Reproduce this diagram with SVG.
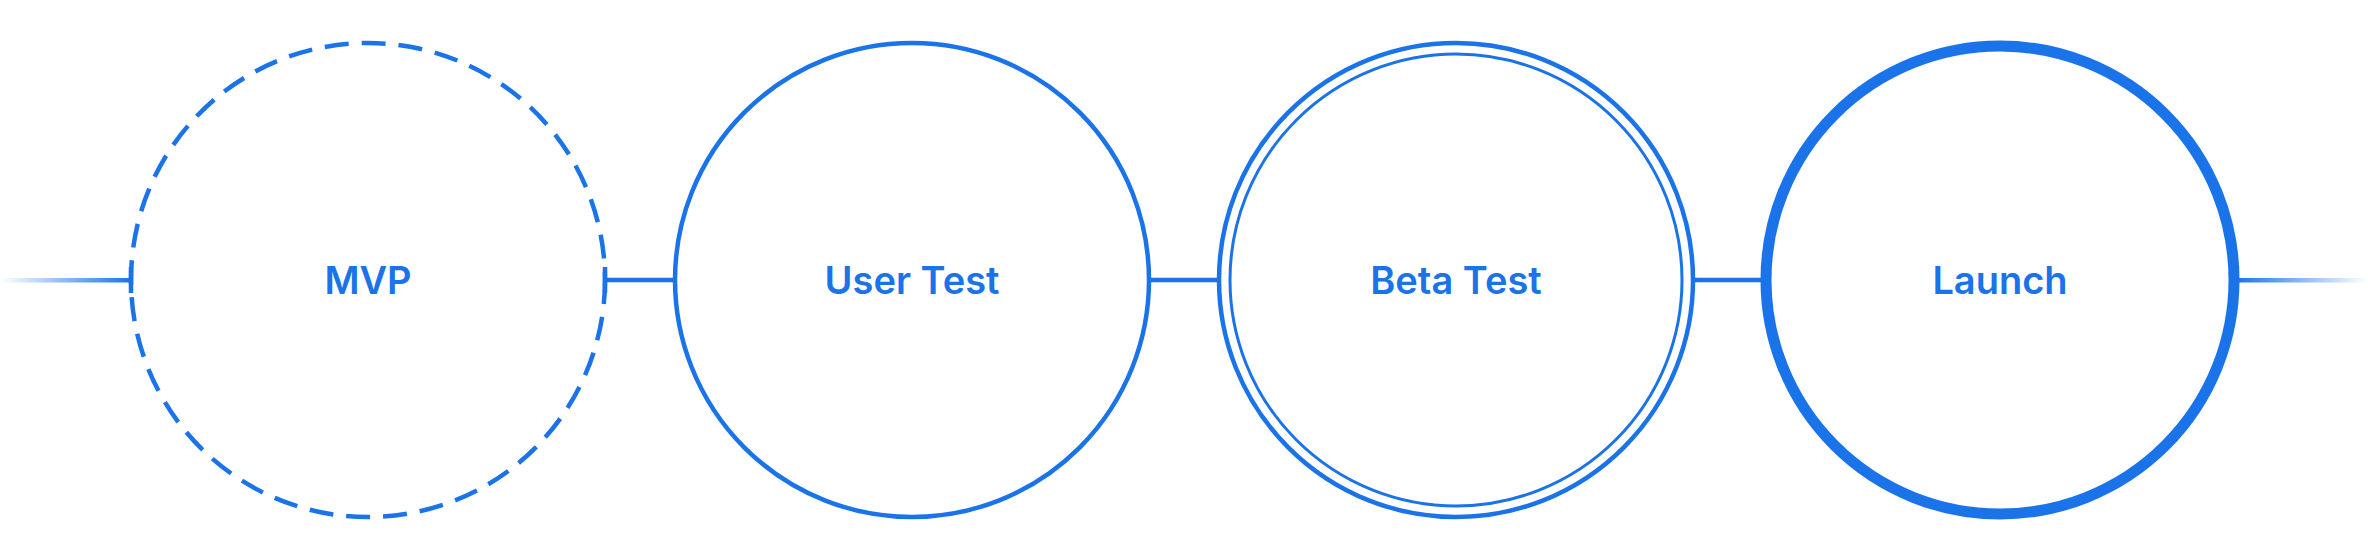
<svg xmlns="http://www.w3.org/2000/svg" width="2368" height="560" viewBox="0 0 2368 560">
<style>
.c{fill:none;stroke:#1a73e8;stroke-width:4.5}
.l{stroke:#1a73e8;stroke-width:4.5}
.t{font-family:Inter,"Liberation Sans",Arial,sans-serif;font-weight:600;font-size:38px;fill:#1a73e8;text-anchor:middle;dominant-baseline:central}
</style>
<defs>
<linearGradient id="gl" x1="0" x2="1" y1="0" y2="0"><stop offset="0" stop-color="#1a73e8" stop-opacity="0"/><stop offset="1" stop-color="#1a73e8"/></linearGradient>
<linearGradient id="gr" x1="0" x2="1" y1="0" y2="0"><stop offset="0" stop-color="#1a73e8"/><stop offset="1" stop-color="#1a73e8" stop-opacity="0"/></linearGradient>
</defs>
<rect width="2368" height="560" fill="#fff"/>
<g id="connectors">
<rect x="0" y="278" width="131" height="4.5" fill="url(#gl)"/>
<line class="l" x1="131" y1="267" x2="131" y2="293"/>
<line class="l" x1="605" y1="267" x2="605" y2="293"/>
<line class="l" x1="605" y1="280" x2="675" y2="280"/>
<line class="l" x1="1149" y1="280" x2="1219" y2="280"/>
<line class="l" x1="1693" y1="280" x2="1765" y2="280"/>
<rect x="2235" y="278" width="133" height="4.5" fill="url(#gr)"/>
</g>
<g id="mvp"><circle class="c" cx="368" cy="280" r="237" stroke-dasharray="24 13"/><text class="t" x="368" y="280">MVP</text></g>
<g id="user-test"><circle class="c" cx="912" cy="280" r="237"/><text class="t" x="912" y="280">User Test</text></g>
<g id="beta-test"><circle class="c" cx="1456" cy="280" r="237"/><circle class="c" style="stroke-width:3" cx="1456" cy="280" r="226"/><text class="t" x="1456" y="280">Beta Test</text></g>
<g id="launch"><circle class="c" style="stroke-width:11" cx="2000" cy="280" r="234"/><text class="t" x="2000" y="280">Launch</text></g>
</svg>
